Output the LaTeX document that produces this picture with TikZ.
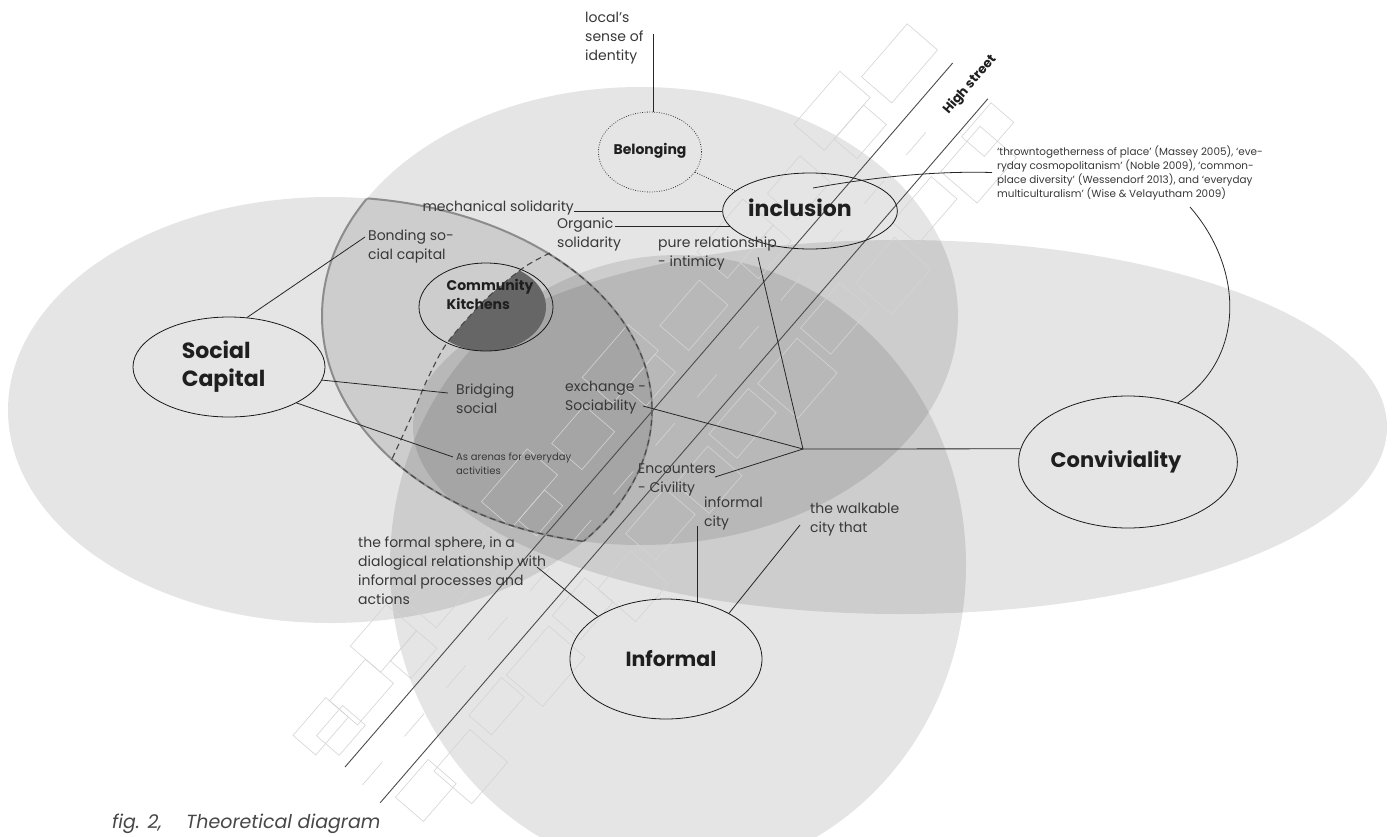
\documentclass[tikz,border=0pt]{standalone}
\usepackage{fontspec}
\setmainfont{Poppins}
\usetikzlibrary{shapes.geometric}
\tikzset{
  layer/.style={fill=black, fill opacity=0.1},
  lensline/.style={draw=black!45, line width=2pt},
  dashline/.style={draw=black!72, line width=1.1pt, dash pattern=on 6pt off 4pt},
  bldg/.style={draw=black!17, line width=0.6pt},
  streetline/.style={draw=black!70, line width=0.9pt},
  conn/.style={draw=black!85, line width=0.8pt},
  lbl/.style={text=black!78, inner sep=0pt, align=left, anchor=west, font=\fontsize{14}{19}\selectfont},
  smalllbl/.style={text=black!78, inner sep=0pt, align=left, anchor=west, font=\fontsize{10}{14}\selectfont},
  oval/.style={ellipse, draw=black!90, line width=0.8pt, inner sep=0pt, text=black!88, align=left},
}
\begin{document}
\begin{tikzpicture}[x=1pt,y=-1pt]
\useasboundingbox (0,0) rectangle (1395,836);
\clip (0,0) rectangle (1395,836);
\fill[white] (0,0) rectangle (1395,836);
% big translucent ellipses
\fill[layer] (330,410) ellipse [x radius=322, y radius=213];
\fill[layer] (640,316) ellipse [x radius=318, y radius=229];
\fill[layer] (678,565) ellipse [x radius=288, y radius=310];
\fill[layer] (900,427) ellipse [x radius=487, y radius=187];
% dark part of community kitchens
\begin{scope}
  \clip plot[smooth] coordinates {(550,253) (523,268) (485,300) (447,343) (427,380) (413,413) (392,459)} -- (392,620) -- (820,620) -- (820,200) -- (560,200) -- cycle;
  \fill[black!60] (486,307) ellipse [x radius=60, y radius=44];
\end{scope}
% high street
\begin{scope}[shift={(345,767)}, rotate=49.2]
  \foreach \a/\b/\c/\d in {-10/-60/40/-30, 5/-42/45/-12, 40/-55/95/-18, 95/-75/150/-35, 110/-35/150/-8, 165/-60/225/-22, 230/-48/275/-12, 290/-70/360/-30, 300/-30/340/-6, 380/-55/430/-15, 450/-75/520/-35, 470/-35/515/-8, 540/-50/600/-12, 620/-70/690/-30, 640/-30/690/-6, 710/-55/760/-15, 780/-80/850/-40, 795/-40/840/-10, 860/-60/930/-20,
    10/58/60/95, 55/70/110/120, 120/60/170/90, 175/62/240/110, 250/58/300/95, 300/75/350/125, 360/60/420/100, 430/65/480/110, 490/58/550/95, 560/62/620/115, 630/58/690/98, 700/70/760/118, 770/58/830/92, 840/62/900/110, 880/55/925/85}
    \draw[bldg] (\a,\b) rectangle (\c,\d);
  \draw[bldg, dash pattern=on 30pt off 34pt] (-2,25) -- (880,25);
  \draw[streetline] (0,0) -- (930,0);
  \draw[streetline] (-4,50) -- (926,50);
\end{scope}
\node[rotate=49.2, font=\bfseries\fontsize{13}{15}\selectfont, text=black!88, inner sep=0pt] (hs) at (970,85) {High street};
% lens outline
\begin{scope}
  \clip (330,410) ellipse [x radius=322, y radius=213];
  \draw[lensline] (640,316) ellipse [x radius=318, y radius=229];
\end{scope}
\begin{scope}
  \clip (640,316) ellipse [x radius=318, y radius=229];
  \draw[lensline] (330,410) ellipse [x radius=322, y radius=213];
\end{scope}
% dashed region outline
\begin{scope}
  \clip (330,410) ellipse [x radius=322, y radius=213];
  \clip (0,459) rectangle (1395,836);
  \draw[dashline] (640,316) ellipse [x radius=318, y radius=229];
\end{scope}
\begin{scope}
  \clip (640,316) ellipse [x radius=318, y radius=229];
  \clip (0,253) rectangle (1395,836);
  \draw[dashline] (330,410) ellipse [x radius=322, y radius=213];
\end{scope}
\draw[dashline] plot[smooth] coordinates {(550,253) (523,268) (485,300) (447,343) (427,380) (413,413) (392,459)};
% main ovals
\node[oval, minimum width=192pt, minimum height=100pt, font=\bfseries\fontsize{22}{28}\selectfont] (soc) at (229,367) {Social\\Capital\hspace*{11pt}};
\node[oval, minimum width=146pt, minimum height=76pt, font=\bfseries\fontsize{22}{26}\selectfont] (incl) at (810,211) {\raisebox{7pt}{inclusion}\hspace*{20pt}};
\node[oval, draw=black!80, dash pattern=on 0.8pt off 1.6pt, minimum width=94pt, minimum height=80pt, font=\bfseries\fontsize{14}{17}\selectfont] (bel) at (650,152) {\raisebox{7pt}{Belonging}};
\node[oval, minimum width=120pt, minimum height=88pt, font=\bfseries\fontsize{14}{19}\selectfont] (ck) at (486,307) {\hspace*{8pt}Community\\\hspace*{8pt}Kitchens\\[7pt]};
\node[oval, minimum width=192pt, minimum height=120pt, font=\bfseries\fontsize{20.5}{24}\selectfont] (inf) at (666,659) {\hspace*{10pt}Informal};
\node[oval, minimum width=212pt, minimum height=132pt, font=\bfseries\fontsize{21}{25}\selectfont] (conv) at (1128,462) {\raisebox{5pt}{Conviviality}\hspace*{24pt}};
% labels
\node[lbl] (loc) at (585,38.5) {local’s\\sense of\\identity};
\node[lbl, anchor=base east] (mech) at (574,211) {mechanical solidarity};
\node[lbl] (org) at (557,234) {Organic\\solidarity};
\node[lbl] (pure) at (658,253.5) {pure relationship\\- intimicy};
\node[lbl] (bond) at (368,246.5) {Bonding so-\\cial capital};
\node[lbl] (bridg) at (456,399) {Bridging\\social};
\node[smalllbl] (arenas) at (456,464) {As arenas for everyday\\activities};
\node[lbl] (exch) at (565,398) {exchange -\\Sociability};
\node[lbl] (enc) at (638,479.5) {Encounters\\- Civility};
\node[lbl] (infc) at (704,513) {informal\\city};
\node[lbl] (walk) at (810,520) {the walkable\\city that};
\node[lbl] (formal) at (358,571) {the formal sphere, in a\\dialogical relationship with\\informal processes and\\actions};
\node[smalllbl, font=\fontsize{10.4}{14}\selectfont] (quote) at (997,172.5) {‘throwntogetherness of place’ (Massey 2005), ‘eve-\\ryday cosmopolitanism’ (Noble 2009), ‘common-\\place diversity’ (Wessendorf 2013), and ‘everyday\\multiculturalism’ (Wise \& Velayutham 2009)};
\node[text=black!72, inner sep=0pt, anchor=base west, font=\itshape\fontsize{19}{22}\selectfont] (cap) at (112,828) {fig. 2,\hspace*{24pt}Theoretical diagram};
% connectors
\coordinate (hub) at (803,449);
\coordinate (qs) at (813,188);
\draw[conn] (soc.70) -- ([shift={(-3,-9.5)}]bond.west);
\draw[conn] (soc.-8.6) -- ([shift={(-8,-6)}]bridg.west);
\draw[conn] (soc.-28) -- ([shift={(-3,-7)}]arenas.west);
\draw[conn] (bel.85) -- ++(0,-78);
\draw[conn, dash pattern=on 0.8pt off 1.6pt] (bel.-24) -- (incl.165);
\draw[conn] (mech.base east) -- (incl.west);
\draw[conn] (incl.191.6) -- ++(-115,0);
\draw[conn] (qs) .. controls (880,176) and (940,171) .. ([xshift=-5]quote.west);
\draw[conn] ([shift={(193,34.5)}]quote.west) .. controls (1245,270) and (1245,360) .. (conv.50);
\draw[conn] ([shift={(100,3.5)}]pure.west) -- (hub);
\draw[conn] ([shift={(78,8)}]exch.west) -- (hub);
\draw[conn] ([shift={(77,-2.5)}]enc.west) -- (hub);
\draw[conn] (hub) -- (conv.173);
\draw[conn] ([shift={(179,-4)}]formal.west) -- (inf.148);
\draw[conn] (inf.61.5) -- ++(0,-76);
\draw[conn] (inf.36) -- ([shift={(-10,5)}]walk.west);
\end{tikzpicture}
\end{document}
